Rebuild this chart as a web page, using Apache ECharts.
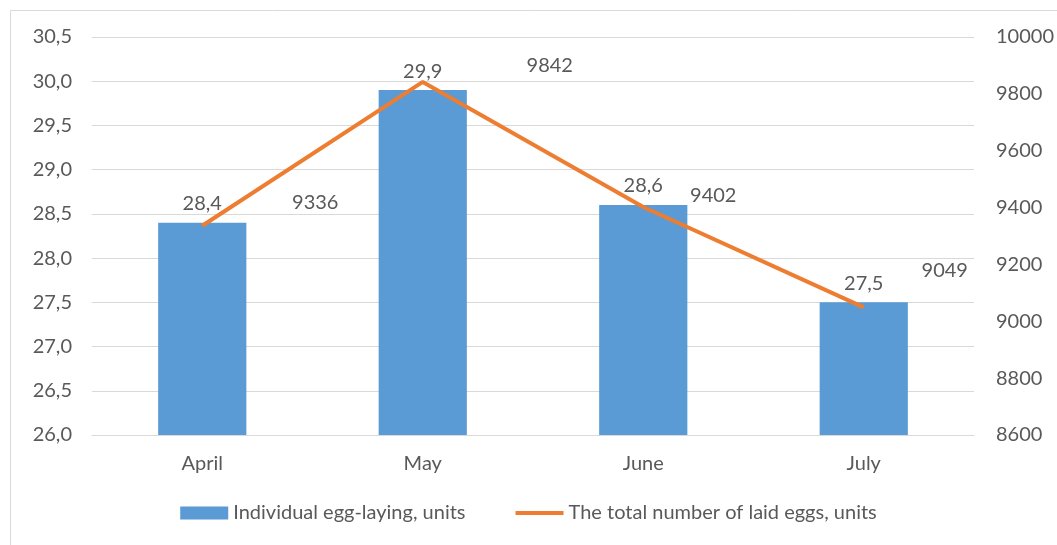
<!DOCTYPE html>
<html>
<head>
<meta charset="utf-8">
<script src="https://cdn.jsdelivr.net/npm/echarts@6/dist/echarts.min.js"></script>
<style>
  html, body { margin: 0; padding: 0; background: #fff; }
  #chart { width: 1057px; height: 545px; }
</style>
</head>
<body>
<div id="chart"></div>
<script>
const months = ["April", "May", "June", "July"];
const eggLaying = [28.4, 29.9, 28.6, 27.5];
const totalEggs = [9336, 9842, 9402, 9049];
// offsets of line labels from their points (Excel-style labels)
const lineLabelOffsets = [[113, -23], [127, -16], [70, -11], [81, -37]];

const chart = echarts.init(document.getElementById("chart"));
const txt = "#595959";
const font = "Lato";
const fs = 20;

chart.setOption({
  animation: false,
  textStyle: { fontFamily: font },
  graphic: [{
    type: "rect",
    shape: { x: 10.5, y: 10.5, width: 1060, height: 560 },
    style: { fill: null, stroke: "#d9d9d9", lineWidth: 1 },
    silent: true
  }],
  legend: {
    bottom: 17,
    left: "center",
    itemGap: 50,
    itemWidth: 48,
    itemHeight: 13,
    textStyle: { fontSize: fs, color: txt, fontFamily: font },
    data: [
      { name: "Individual egg-laying, units", icon: "rect" },
      { name: "The total number of laid eggs, units", icon: "path://M0,0 H48 V4 H0 Z", itemStyle: { color: "#ed7d31" } }
    ]
  },
  grid: { left: 92, right: 82, top: 37, bottom: 110 },
  xAxis: {
    type: "category",
    data: months,
    axisLine: { lineStyle: { color: "#d9d9d9" } },
    axisTick: { show: false },
    axisLabel: { color: txt, fontSize: fs, margin: 19 }
  },
  yAxis: [
    {
      type: "value",
      min: 26,
      max: 30.5,
      interval: 0.5,
      axisLine: { show: false },
      axisTick: { show: false },
      splitLine: { lineStyle: { color: "#d9d9d9" } },
      axisLabel: {
        color: txt, fontSize: fs, margin: 20,
        formatter: v => v.toFixed(1).replace(".", ",")
      }
    },
    {
      type: "value",
      min: 8600,
      max: 10000,
      interval: 200,
      axisLine: { show: false },
      axisTick: { show: false },
      splitLine: { show: false },
      axisLabel: { color: txt, fontSize: fs, margin: 22, formatter: v => String(v) }
    }
  ],
  series: [
    {
      name: "Individual egg-laying, units",
      type: "bar",
      data: eggLaying,
      barWidth: "40%",
      itemStyle: { color: "#5b9bd5" },
      label: {
        show: true,
        position: "top",
        distance: 9,
        color: txt,
        fontSize: fs,
        formatter: p => p.value.toFixed(1).replace(".", ",")
      }
    },
    {
      name: "The total number of laid eggs, units",
      type: "line",
      yAxisIndex: 1,
      data: totalEggs.map((v, i) => ({
        value: v,
        label: { offset: lineLabelOffsets[i] }
      })),
      symbol: "circle",
      symbolSize: 1,
      showSymbol: true,
      lineStyle: { color: "#ed7d31", width: 4 },
      itemStyle: { color: "#ed7d31" },
      label: {
        show: true,
        position: "inside",
        color: txt,
        fontSize: fs
      }
    }
  ]
});
</script>
</body>
</html>
